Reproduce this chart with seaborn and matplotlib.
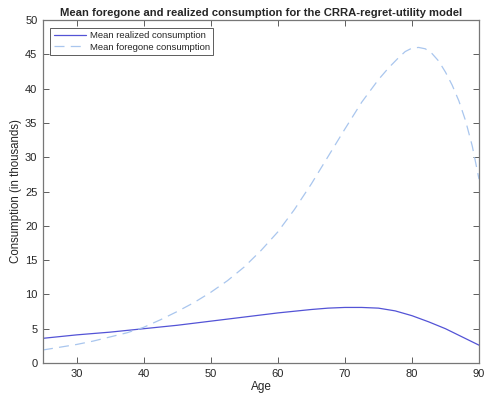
import matplotlib
matplotlib.use("Agg")
import matplotlib.pyplot as plt
import seaborn as sns
import pandas as pd

ages_foregone = [25, 27.5, 30, 32.5, 35, 37.5, 40, 42.5, 45, 47.5, 50, 52.5, 55, 57.5, 60, 62.5, 65, 67.5, 70, 72.5, 75, 76.5, 78, 79, 80, 81, 82, 83, 84, 85, 86, 87, 88, 89, 90]
foregone = [1.9, 2.3, 2.7, 3.2, 3.8, 4.4, 5.2, 6.3, 7.5, 8.8, 10.3, 12.0, 14.0, 16.4, 19.1, 22.4, 26.1, 30.1, 34.1, 38.0, 41.3, 43.0, 44.5, 45.4, 45.9, 46.0, 45.8, 45.1, 44.0, 42.4, 40.5, 38.2, 35.3, 31.6, 26.8]

ages_realized = [25, 30, 35, 40, 45, 50, 55, 60, 65, 67.5, 70, 72.5, 75, 77.5, 80, 82.5, 85, 87.5, 90]
realized = [3.6, 4.1, 4.5, 5.0, 5.5, 6.1, 6.7, 7.3, 7.8, 8.0, 8.1, 8.1, 8.0, 7.6, 6.9, 6.0, 5.0, 3.8, 2.6]

xticks = [30, 40, 50, 60, 70, 80, 90]
yticks = [0, 5, 10, 15, 20, 25, 30, 35, 40, 45, 50]

sns.set_style("white")
plt.rcParams['font.family'] = ['Liberation Sans', 'DejaVu Sans']

fig = plt.figure(figsize=(4.84, 3.96), dpi=100)
ax = fig.add_axes([0.0888, 0.0833, 0.9009, 0.8662])

df_r = pd.DataFrame({"Age": ages_realized, "Consumption": realized})
df_f = pd.DataFrame({"Age": ages_foregone, "Consumption": foregone})

sns.lineplot(data=df_r, x="Age", y="Consumption", ax=ax, color="#5353d6", lw=0.9,
             label="Mean realized consumption")
sns.lineplot(data=df_f, x="Age", y="Consumption", ax=ax, color="#a9c6ee", lw=0.9,
             label="Mean foregone consumption")
ax.lines[1].set_linestyle((0, (8, 5)))

ax.set_xlim(25, 90)
ax.set_ylim(0, 50)
ax.set_xticks(xticks)
ax.set_yticks(yticks)
ax.tick_params(direction="in", length=4, width=0.6, color="#444444",
               labelsize=8, top=True, right=True, left=True, bottom=True,
               labelcolor="#262626", pad=4)
for s in ax.spines.values():
    s.set_color("#777777")
    s.set_linewidth(0.9)

ax.set_xlabel("Age", fontsize=8.5, labelpad=1.5)
ax.set_ylabel("Consumption (in thousands)", fontsize=8.3, labelpad=2)
ax.set_title("Mean foregone and realized consumption for the CRRA-regret-utility model",
             fontsize=8.1, fontweight="bold", pad=3)

leg = ax.legend(loc="upper left", fontsize=6.8, frameon=True, fancybox=False,
                edgecolor="#333333", handlelength=3.4, borderpad=0.35,
                labelspacing=0.25, handletextpad=0.4,
                bbox_to_anchor=(0.017, 0.977), borderaxespad=0)
leg.get_frame().set_linewidth(0.7)

fig.savefig("out.png", dpi=100)
